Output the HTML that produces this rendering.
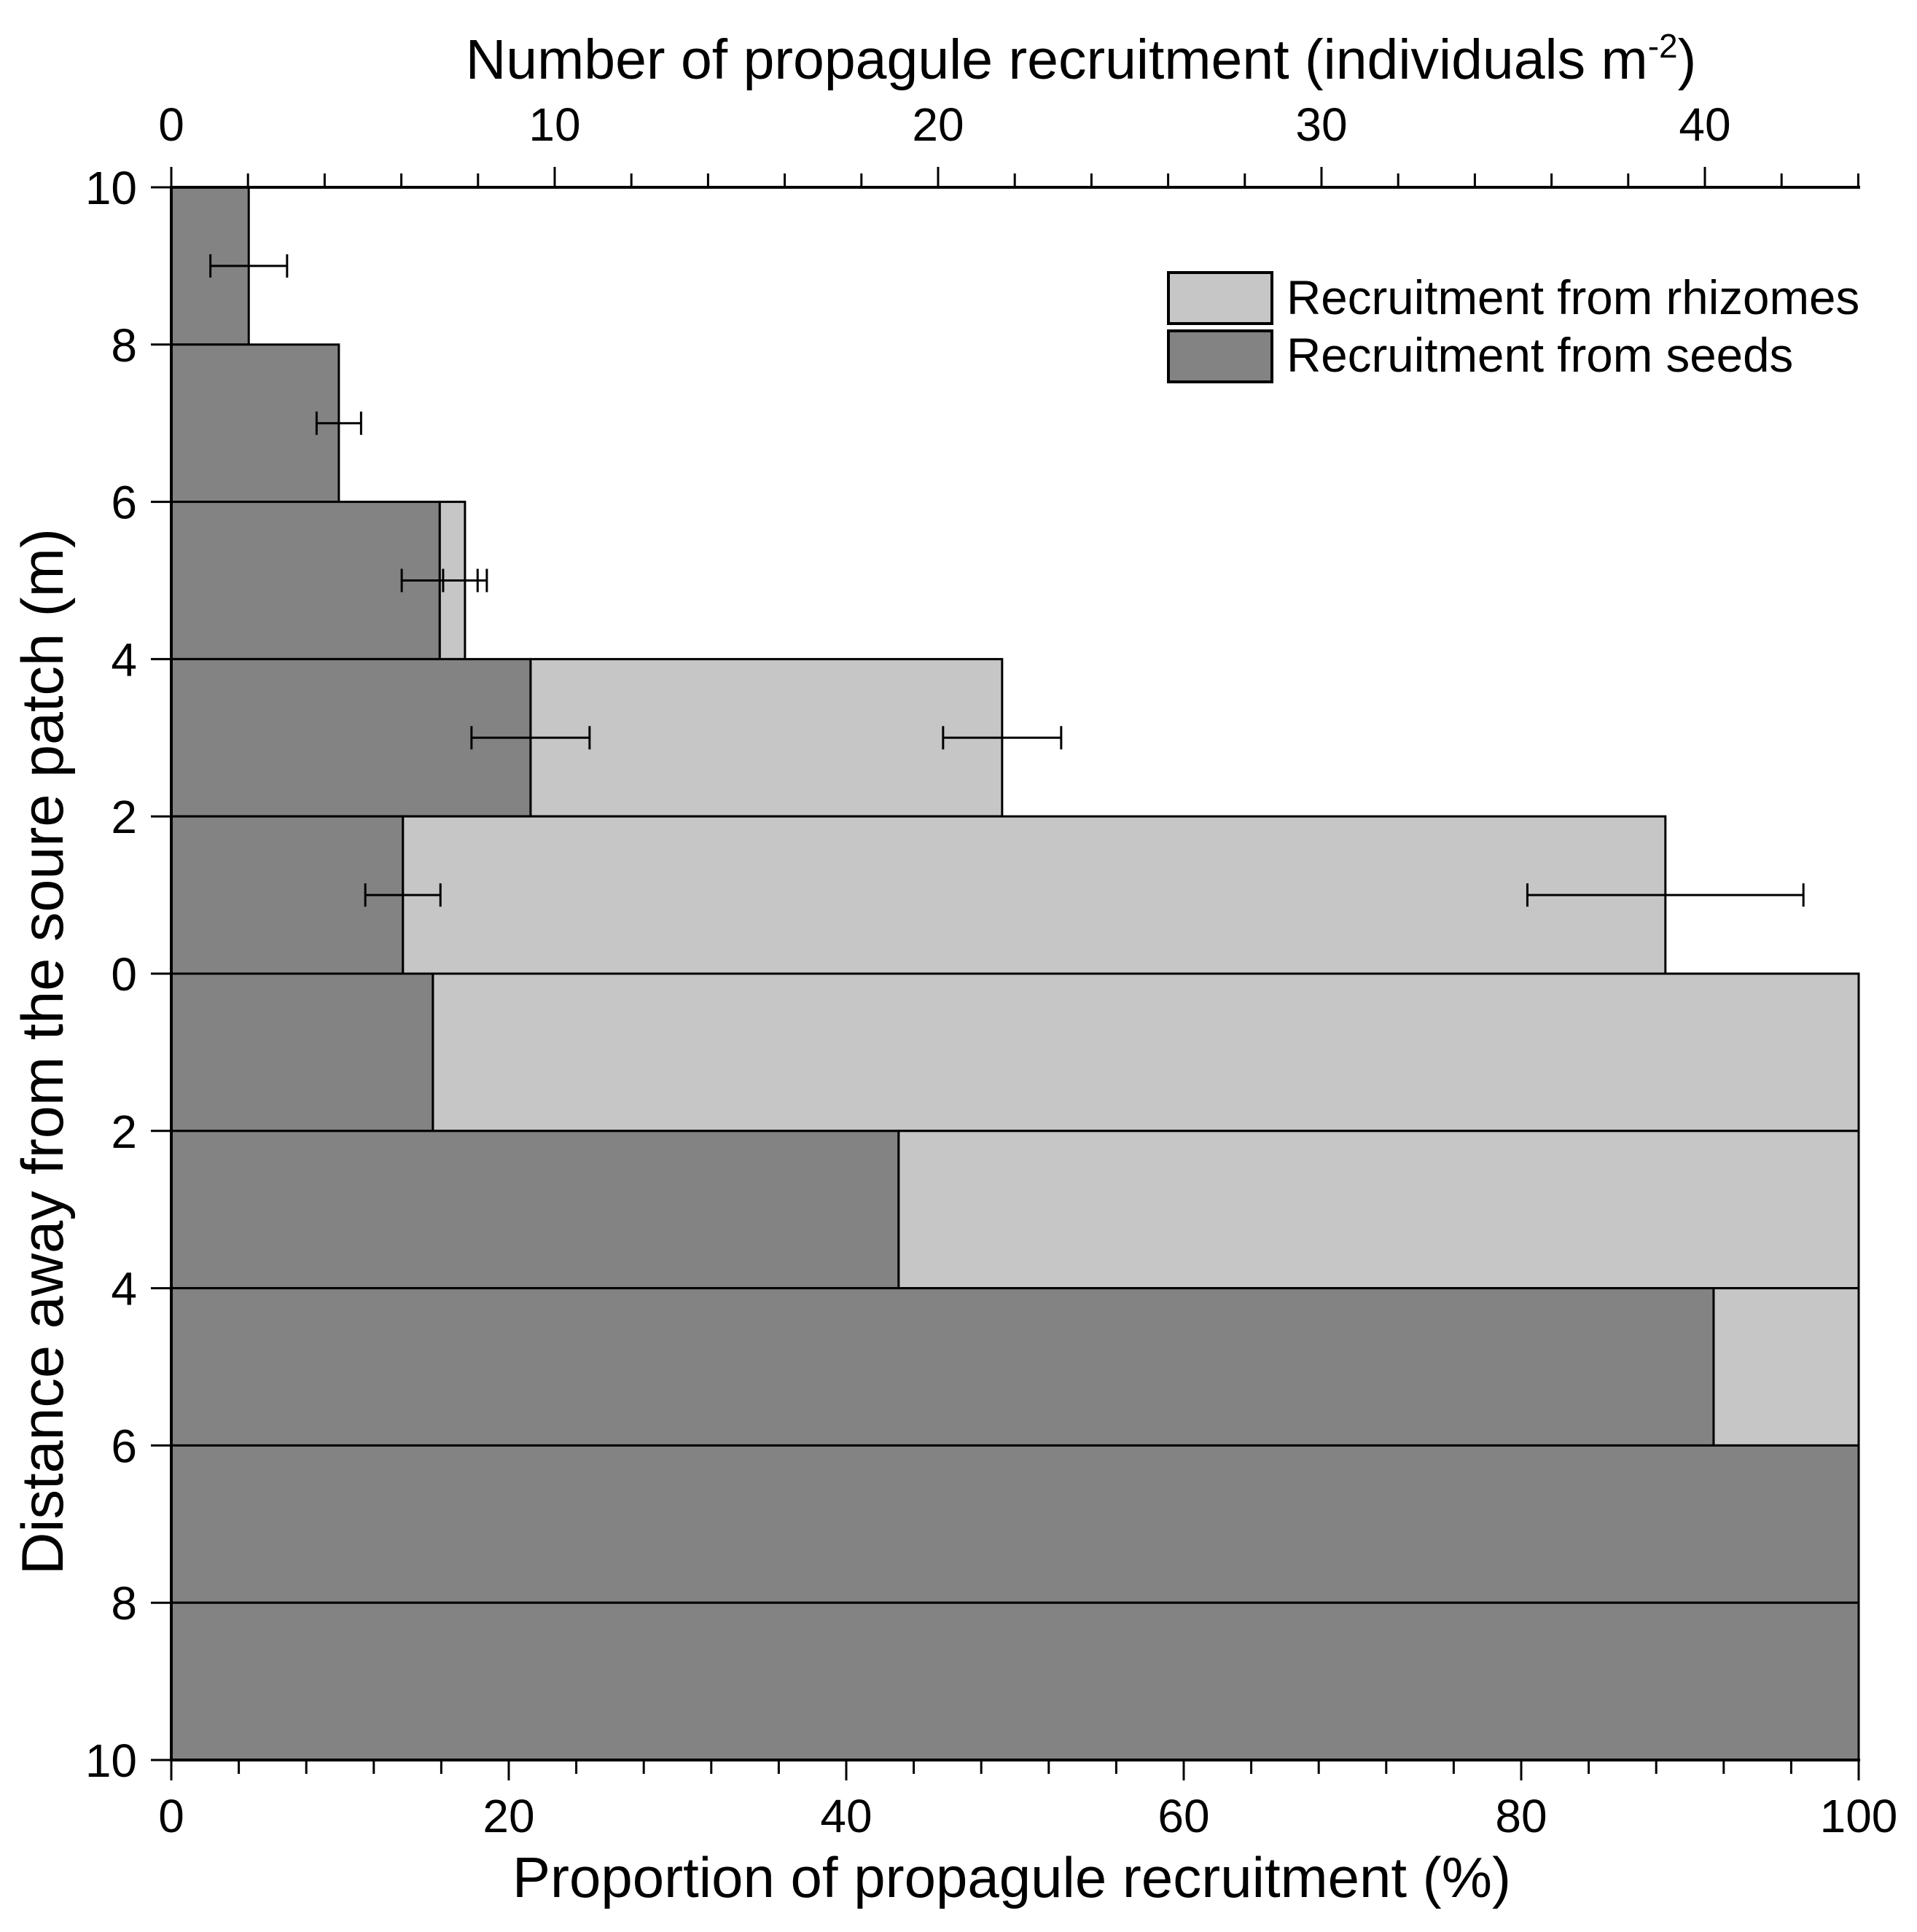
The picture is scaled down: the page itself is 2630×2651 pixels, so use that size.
<!DOCTYPE html>
<html><head><meta charset="utf-8"><style>
html,body{margin:0;padding:0;background:#fff}
svg{display:block}
text{font-family:"Liberation Sans",Arial,sans-serif;fill:#000}
</style></head><body>
<svg id="chart" width="2630" height="2651" viewBox="0 0 2630 2651" xmlns="http://www.w3.org/2000/svg"></svg>
<script>
// Upper section (counts, top axis): rows by distance band
const upperRows = ["8-10", "6-8", "4-6", "2-4", "0-2"];
const upperRowTop = [10, 8, 6, 4, 2];
const seedCounts = [2.02, 4.37, 7.0, 9.37, 6.04];
const seedErr = [1.0, 0.58, 0.99, 1.54, 0.98];
const totalCounts = [2.02, 4.37, 7.66, 21.67, 38.97];
const rhizErr = [0, 0, 0.57, 1.54, 3.6];
const hasRhiz = [false, false, true, true, true];
// Lower section (proportion %, bottom axis)
const lowerRows = ["0-2", "2-4", "4-6", "6-8", "8-10"];
const lowerRowTop = [0, 2, 4, 6, 8];
const seedPct = [15.5, 43.1, 91.4, 100, 100];
const topTickLabels = [0, 10, 20, 30, 40];
const bottomTickLabels = [0, 20, 40, 60, 80, 100];
const leftTickLabels = [10, 8, 6, 4, 2, 0, 2, 4, 6, 8, 10];

const NS = "http://www.w3.org/2000/svg";
const svg = document.getElementById("chart");
const L = 235, R = 2550, T = 257, B = 2415;
const xc = v => L + v * 52.6;            // counts axis
const xp = p => L + p * (R - L) / 100;   // percent axis
const unit = (B - T) / 20;
const yUp = d => T + (10 - d) * unit;    // upper distance
const yLo = d => T + (10 + d) * unit;    // lower distance

function mk(tag, attrs, parent) {
  const e = document.createElementNS(NS, tag);
  for (const k in attrs) e.setAttribute(k, attrs[k]);
  (parent || svg).appendChild(e);
  return e;
}
const DARK = "#838383", LIGHT = "#c6c6c6";

// Lower bars
lowerRows.forEach((r, i) => {
  const y0 = yLo(lowerRowTop[i]), y1 = yLo(lowerRowTop[i] + 2);
  if (seedPct[i] < 100) {
    const rr = mk("rect", {x: xp(seedPct[i]), y: y0, width: xp(100) - xp(seedPct[i]), height: y1 - y0, fill: LIGHT, stroke: "#000", "stroke-width": 3});
    
    
  }
  const s = mk("rect", {x: L, y: y0, width: xp(seedPct[i]) - L, height: y1 - y0, fill: DARK, stroke: "#000", "stroke-width": 3});
  
  
});

// Upper bars
upperRows.forEach((r, i) => {
  const y0 = yUp(upperRowTop[i]), y1 = yUp(upperRowTop[i] - 2);
  if (hasRhiz[i]) {
    const rr = mk("rect", {x: xc(seedCounts[i]), y: y0, width: xc(totalCounts[i]) - xc(seedCounts[i]), height: y1 - y0, fill: LIGHT, stroke: "#000", "stroke-width": 3});
    
    
  }
  const s = mk("rect", {x: L, y: y0, width: xc(seedCounts[i]) - L, height: y1 - y0, fill: DARK, stroke: "#000", "stroke-width": 3});
  
  
});

// Error bars
function errBar(cx, e, y, name) {
  const g = mk("g", {stroke: "#000", "stroke-width": 3});
  
  
  mk("line", {x1: xc(cx - e), x2: xc(cx + e), y1: y, y2: y}, g);
  mk("line", {x1: xc(cx - e), x2: xc(cx - e), y1: y - 16, y2: y + 16}, g);
  mk("line", {x1: xc(cx + e), x2: xc(cx + e), y1: y - 16, y2: y + 16}, g);
}
upperRows.forEach((r, i) => {
  const y = yUp(upperRowTop[i] - 1);
  errBar(seedCounts[i], seedErr[i], y, 'seed-error-bar-' + r);
  if (hasRhiz[i]) errBar(totalCounts[i], rhizErr[i], y, 'rhizome-error-bar-' + r);
});

// Axes
const ax = mk("g", {stroke: "#000", "stroke-width": 4});


mk("line", {x1: L - 2, x2: R + 2, y1: T, y2: T}, ax);
mk("line", {x1: L - 2, x2: R + 2, y1: B, y2: B}, ax);
mk("line", {x1: L, x2: L, y1: T, y2: B}, ax);

// top ticks
for (let v = 0; v <= 44; v += 2) {
  const major = v % 10 === 0;
  mk("line", {x1: xc(v), x2: xc(v), y1: T, y2: T - (major ? 28 : 19), "stroke-width": 3}, ax);
}
topTickLabels.forEach(v => {
  const t = mk("text", {x: xc(v), y: 193, "font-size": 64, "text-anchor": "middle"});
  t.textContent = v;
  
  
});
// bottom ticks
for (let p = 0; p <= 100; p += 4) {
  const major = p % 20 === 0;
  mk("line", {x1: xp(p), x2: xp(p), y1: B, y2: B + (major ? 28 : 19), "stroke-width": 3}, ax);
}
bottomTickLabels.forEach(p => {
  const t = mk("text", {x: xp(p), y: 2514, "font-size": 64, "text-anchor": "middle"});
  t.textContent = p;
  
  
});
// left ticks
leftTickLabels.forEach((v, i) => {
  const y = T + i * 2 * unit;
  mk("line", {x1: L, x2: L - 28, y1: y, y2: y, "stroke-width": 3}, ax);
  const t = mk("text", {x: 188, y: y + 23, "font-size": 64, "text-anchor": "end"});
  t.textContent = v;
  
  
});
</script>
<script>
(function(){
  const svg = document.getElementById("chart");
  svg.insertAdjacentHTML("beforeend",
  '<text x="1483" y="108" font-size="77" text-anchor="middle">Number of propagule recruitment (individuals m<tspan dy="-29" font-size="46">-2</tspan><tspan dy="29">)</tspan></text>' +
  '<text x="1388" y="2603" font-size="78" text-anchor="middle">Proportion of propagule recruitment (%)</text>' +
  '<text transform="translate(86,1443) rotate(-90)" font-size="81" text-anchor="middle">Distance away from the soure patch (m)</text>' +
  '<g>' +
  '<rect x="1603" y="374" width="142" height="70" fill="#c6c6c6" stroke="#000" stroke-width="4"/>' +
  '<text x="1765" y="431" font-size="65.5">Recruitment from rhizomes</text>' +
  '<rect x="1603" y="454" width="142" height="70" fill="#838383" stroke="#000" stroke-width="4"/>' +
  '<text x="1765" y="510" font-size="65.5">Recruitment from seeds</text>' +
  '</g>');
})();
</script>
</body></html>
